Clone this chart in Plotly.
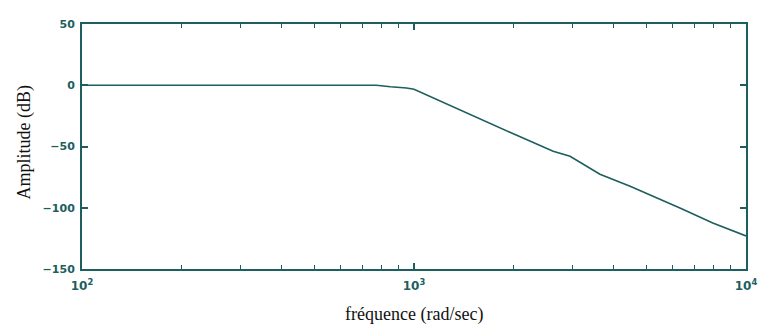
import plotly.graph_objects as go

freq = [100, 300, 600, 770, 850, 950, 1000, 1377, 1945, 2625, 2951, 3631, 4477, 6324, 7943, 10000]
amp_db = [0, 0, 0, 0, -1.2, -2.2, -3.3, -20.4, -38.4, -53.9, -58.0, -72.7, -82.4, -100.2, -112.4, -123.0]

y_ticks = [50, 0, -50, -100, -150]
x_ticks = [100, 1000, 10000]
x_ticktext = ["10<sup>2</sup>", "10<sup>3</sup>", "10<sup>4</sup>"]
x_minor = [200, 300, 400, 500, 600, 700, 800, 900, 2000, 3000, 4000, 5000, 6000, 7000, 8000, 9000]

teal = "#1d5e5e"
serif = "Liberation Serif"

fig = go.Figure()
fig.add_trace(go.Scatter(x=freq, y=amp_db, mode="lines",
                         line=dict(color=teal, width=1.6), showlegend=False,
                         hoverinfo="skip"))

fig.update_layout(
    width=760, height=329,
    margin=dict(l=82, r=14, t=24, b=60),
    paper_bgcolor="white", plot_bgcolor="white",
    font=dict(family="DejaVu Sans", size=11, color=teal),
    annotations=[
        dict(text="fréquence (rad/sec)", xref="paper", yref="paper", x=0.5, y=-0.185,
             xanchor="center", yanchor="middle", showarrow=False,
             font=dict(family=serif, size=18, color="#111")),
        dict(text="Amplitude (dB)", xref="paper", yref="paper", x=-0.086, y=0.52,
             xanchor="center", yanchor="middle", showarrow=False, textangle=-90,
             font=dict(family=serif, size=18, color="#111")),
    ],
)
fig.update_xaxes(
    type="log", range=[2, 4], showgrid=False, zeroline=False, automargin=False,
    tickvals=x_ticks, ticktext=x_ticktext, ticklabelstandoff=5,
    ticks="inside", ticklen=6, tickwidth=1.5, tickcolor=teal,
    showline=True, linecolor=teal, linewidth=2, mirror="ticks",
    minor=dict(tickvals=x_minor, ticks="inside", ticklen=4, tickwidth=1.2, tickcolor=teal),
    tickfont=dict(family="DejaVu Sans", size=12, color=teal, weight="bold"),
)
fig.update_yaxes(
    range=[-150, 50], showgrid=False, zeroline=False, automargin=False,
    tickvals=y_ticks, ticks="inside", ticklen=6, tickwidth=1.5, tickcolor=teal,
    showline=True, linecolor=teal, linewidth=2, mirror="ticks", ticklabelstandoff=3,
    tickfont=dict(family="DejaVu Sans", size=11, color=teal, weight="bold"),
)

fig.write_html("out.html", config={"displayModeBar": False},
               post_script="document.body.style.margin='0';")
